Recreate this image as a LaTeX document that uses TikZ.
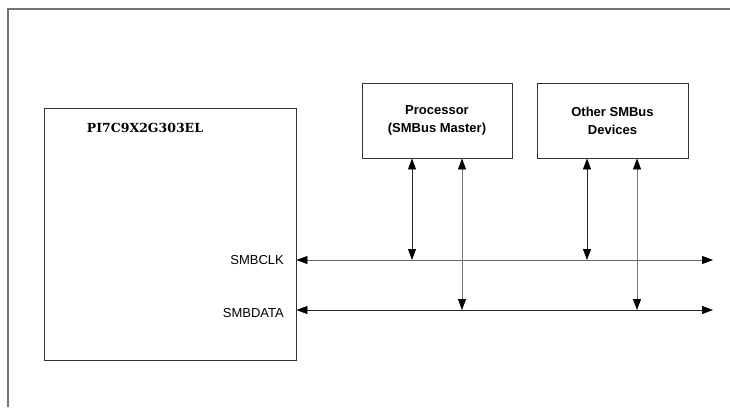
\documentclass[tikz,border=0pt]{standalone}
\usepackage{fontspec}
\setmainfont{Liberation Sans}
\newfontfamily\chipfont{DejaVu Serif}
\usetikzlibrary{arrows.meta}

\tikzset{
  blk/.style={draw=black!80, line width=0.9pt, inner sep=0pt, align=center,
    font=\fontsize{13}{18}\selectfont\bfseries},
  sig/.style={font=\fontsize{13}{15}\selectfont, anchor=east, inner sep=0pt},
  bus/.style={{Triangle[length=11pt,width=8pt,color=black]}-{Triangle[length=11pt,width=8pt,color=black]}, line width=0.8pt},
}

\begin{document}
\begin{tikzpicture}[x=1pt,y=-1pt]
	\useasboundingbox (0,0) rectangle (730,407);
	\draw[black!55, line width=1.2pt] (730,9) -- (8,9) -- (8,407);
	% blocks
	\node[blk, minimum width=252pt, minimum height=252pt] (chip) at (170,234) {};
	\node[font=\chipfont\fontsize{12.5}{15}\selectfont\bfseries] (chipname) at (145,128) {PI7C9X2G303EL};
	\node[blk, minimum width=150pt, minimum height=75pt] (proc) at (437,120.5) {Processor\\(SMBus Master)};
	\node[blk, minimum width=151pt, minimum height=75pt] (other) at (612.5,120.5) {Other SMBus\\Devices};
	% signal names
	\node[sig] (clkname) at (284,260) {SMBCLK};
	\node[sig] (datname) at (284,313) {SMBDATA};
	% bus lines
	\coordinate (clkR) at (713,260);
	\coordinate (datR) at (713,310);
	\draw[bus, black!60] (chip.east |- clkR) -- (clkR);
	\draw[bus, black!85] (chip.east |- datR) -- (datR);
	% taps
	\coordinate (pclk) at (412,260);
	\coordinate (pdat) at (462,310);
	\coordinate (oclk) at (587,260);
	\coordinate (odat) at (637,310);
	\draw[bus, black!85] (proc.south -| pclk) -- (pclk);
	\draw[bus, black!55] (proc.south -| pdat) -- (pdat);
	\draw[bus, black!85] (other.south -| oclk) -- (oclk);
	\draw[bus, black!55] (other.south -| odat) -- (odat);
\end{tikzpicture}
\end{document}
